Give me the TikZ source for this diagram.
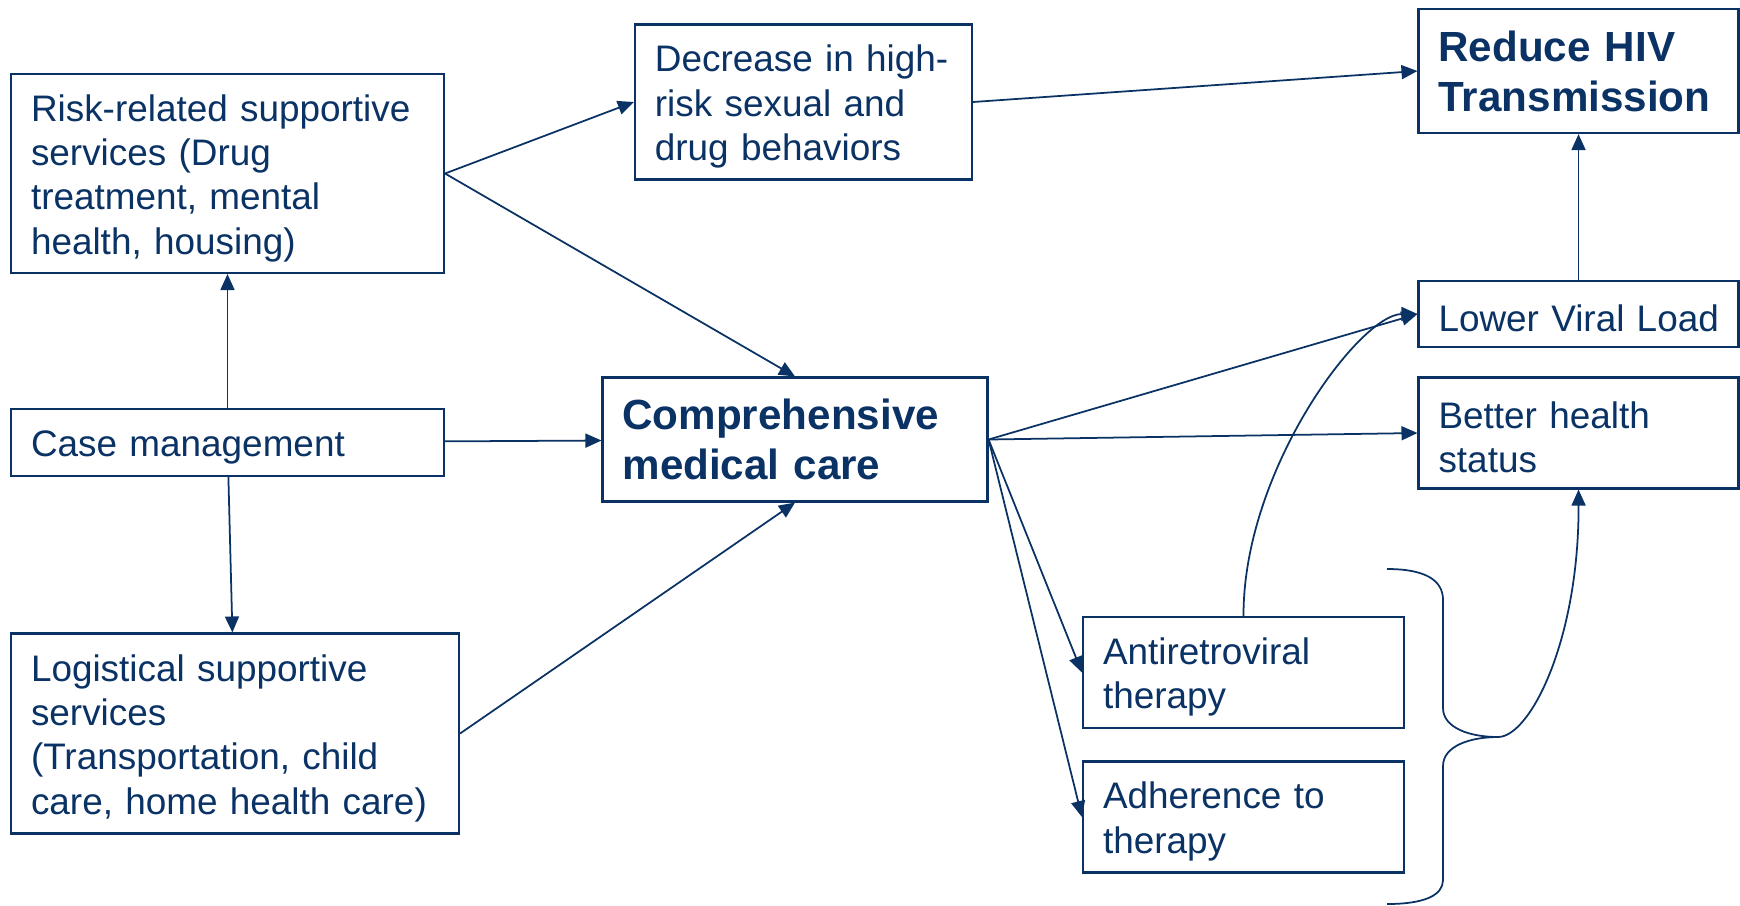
\documentclass[tikz,border=0pt]{standalone}
\usepackage{fontspec}
\setmainfont{Liberation Sans}
\usepackage{xcolor}
\usepackage{tikz}
\usetikzlibrary{arrows.meta}
\definecolor{navy}{RGB}{10,50,100}

\begin{document}
\begin{tikzpicture}[
  x=0.1mm, y=-0.1mm,
  frame/.style={draw=navy, text=navy, line width=0.6pt, align=left, inner xsep=2mm, inner ysep=0.5mm},
  box/.style={frame, font=\fontsize{10.5}{12.6}\selectfont, execute at begin node=\rule{0pt}{10.2pt}},
  big/.style={frame, font=\fontsize{12}{14.2}\selectfont\bfseries},
  arr/.style={-{Triangle[length=1.6mm,width=1.4mm]}, navy, line width=0.5pt}
]
\useasboundingbox (0,0) rectangle (1740,905);
\node[box, text width=39.3mm, minimum height=19.9mm] (risk) at (227.5,173.5) {Risk-related supportive\\services (Drug\\treatment, mental\\health, housing)};
\node[box, text width=39.3mm, minimum height=6.7mm] (casem) at (227.5,442.5) {Case management};
\node[box, text width=40.8mm, minimum height=20mm] (logis) at (235,733.5) {Logistical supportive\\services\\(Transportation, child\\care, home health care)};
\node[box, text width=29.7mm, minimum height=15.5mm] (decr) at (803.4,102) {Decrease in high-\\risk sexual and\\drug behaviors};
\node[big, text width=34.5mm, minimum height=12.4mm] (care) at (795,439.5) {Comprehensive\\medical care};
\node[big, text width=28mm, minimum height=12.4mm] (reduce) at (1578.5,71) {Reduce HIV\\Transmission};
\node[box, text width=28mm, minimum height=6.6mm] (viral) at (1578.5,314) {\mbox{Lower Viral Load}};
\node[box, text width=28mm, minimum height=11.1mm] (health) at (1578.5,433) {Better health\\status};
\node[box, text width=28.1mm, minimum height=11.1mm] (art) at (1243.5,672.5) {Antiretroviral\\therapy};
\node[box, text width=28.1mm, minimum height=11.1mm] (adher) at (1243.5,817) {Adherence to\\therapy};
\coordinate (tip) at (1498,737);
\draw[arr] (casem) -- (risk);
\draw[arr] (casem) -- (logis);
\draw[arr] (casem) -- (care);
\draw[arr] (risk.east) -- (decr.west);
\draw[arr] (risk.east) -- (care.north);
\draw[arr] (logis.east) -- (care.south);
\draw[arr] (decr.east) -- (reduce.west);
\draw[arr] (viral) -- (reduce);
\draw[arr] (care.east) -- (viral.west);
\draw[arr] (care.east) -- (health.west);
\draw[arr] (care.east) -- (art.west);
\draw[arr] (care.east) -- (adher.west);
\draw[arr] (art.north) .. controls (1243,470) and (1360,314) .. (viral.west);
% brace round the two therapy boxes
\draw[navy, line width=0.5pt] (1387,569) .. controls (1425,569) and (1443,580) .. (1443,600) -- (1443,708)
  .. controls (1443,728) and (1470,737) .. (tip)
  .. controls (1470,737) and (1443,746) .. (1443,766) -- (1443,880)
  .. controls (1443,895) and (1425,904) .. (1387,904);
\draw[arr] (tip) .. controls (1530,737) and (1579,640) .. (health.south);
\end{tikzpicture}
\end{document}
